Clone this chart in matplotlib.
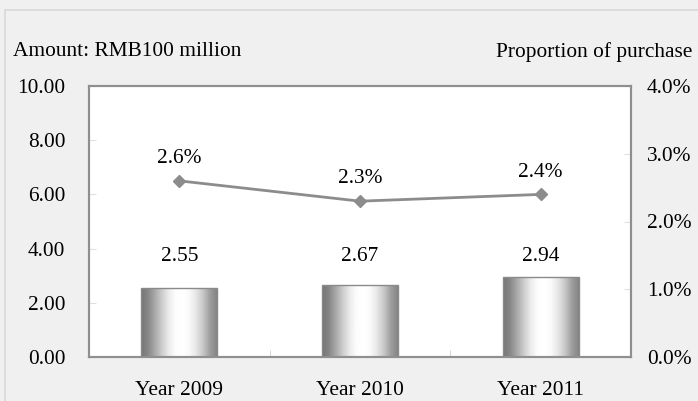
import numpy as np
import matplotlib.pyplot as plt
from matplotlib.patches import Rectangle

plt.rcParams['font.family'] = ['Liberation Serif', 'DejaVu Serif']

years = ['Year 2009', 'Year 2010', 'Year 2011']
amount = [2.55, 2.67, 2.94]
proportion = [2.6, 2.3, 2.4]
amount_labels = ['2.55', '2.67', '2.94']
proportion_labels = ['2.6%', '2.3%', '2.4%']

FS = 15.4

fig = plt.figure(figsize=(6.98, 4.01), dpi=100, facecolor='#f0f0f0')
# light border around the chart area
fig.patches.append(Rectangle((5 / 698, -0.1), 1.2, 1 - 10 / 401 + 0.1,
                             transform=fig.transFigure, fill=False,
                             edgecolor='#d8d8d8', lw=1.2))

ax = fig.add_axes([89 / 698, 44 / 401, 542 / 698, 271 / 401])
ax2 = ax.twinx()
x = np.arange(len(years))

# cylinder-like shading for the bars
shade = np.array([0.46, 0.53, 0.66, 0.8, 0.92, 0.99, 1.0, 0.98, 0.9, 0.78, 0.62, 0.52])
grad = np.interp(np.linspace(0, 1, 200), np.linspace(0, 1, len(shade)), shade)[None, :]
width = 0.42
for xi, v, lab in zip(x, amount, amount_labels):
    bar = ax.bar(xi, v, width, color='none', edgecolor='#8a8a8a', lw=1, zorder=3)[0]
    im = ax.imshow(grad, cmap='gray', vmin=0, vmax=1, aspect='auto',
                   extent=(xi - width / 2, xi + width / 2, 0, v), zorder=2)
    im.set_clip_path(bar)
    # value labels sit on one row above the bars
    ax.text(xi, 3.7, lab, ha='center', va='center', fontsize=FS)
ax.set_xlim(-0.5, 2.5)
ax.set_ylim(0, 10)
ax2.set_ylim(0, 4)

ax2.plot(x, proportion, color='#8c8c8c', lw=2, marker='D', markersize=6.5,
         markerfacecolor='#8c8c8c', markeredgecolor='#8c8c8c', zorder=4)
for xi, p, lab in zip(x, proportion, proportion_labels):
    ax2.text(xi, p + 0.33, lab, ha='center', va='center', fontsize=FS)

for a in (ax, ax2):
    for s in a.spines.values():
        s.set_color('#8f8f8f')
        s.set_linewidth(1.5)
ax.set_facecolor('white')

ax.set_yticks(np.arange(0, 10.1, 2))
ax.set_yticklabels([f'{t:.2f}' for t in np.arange(0, 10.1, 2)])
ax2.set_yticks(np.arange(0, 4.1, 1))
ax2.set_yticklabels([f'{t:.1f}%' for t in np.arange(0, 4.1, 1)])
ax.tick_params(axis='y', direction='in', length=5, color='#e0e0e0', labelsize=FS, pad=17)
ax2.tick_params(axis='y', direction='in', length=5, color='#e0e0e0', labelsize=FS, pad=11.5)

ax.set_xticks(x)
ax.set_xticklabels(years)
ax.set_xticks([0.5, 1.5], minor=True)
ax.tick_params(axis='x', which='major', length=0, labelsize=FS, pad=17)
ax.tick_params(axis='x', which='minor', direction='in', length=5, color='#d0d0d0')

fig.text(13 / 698, 1 - 52 / 401, 'Amount: RMB100 million', ha='left', va='center', fontsize=FS)
fig.text(692 / 698, 1 - 52 / 401, 'Proportion of purchase', ha='right', va='center', fontsize=FS)

fig.savefig('out.png', dpi=100, facecolor=fig.get_facecolor())
